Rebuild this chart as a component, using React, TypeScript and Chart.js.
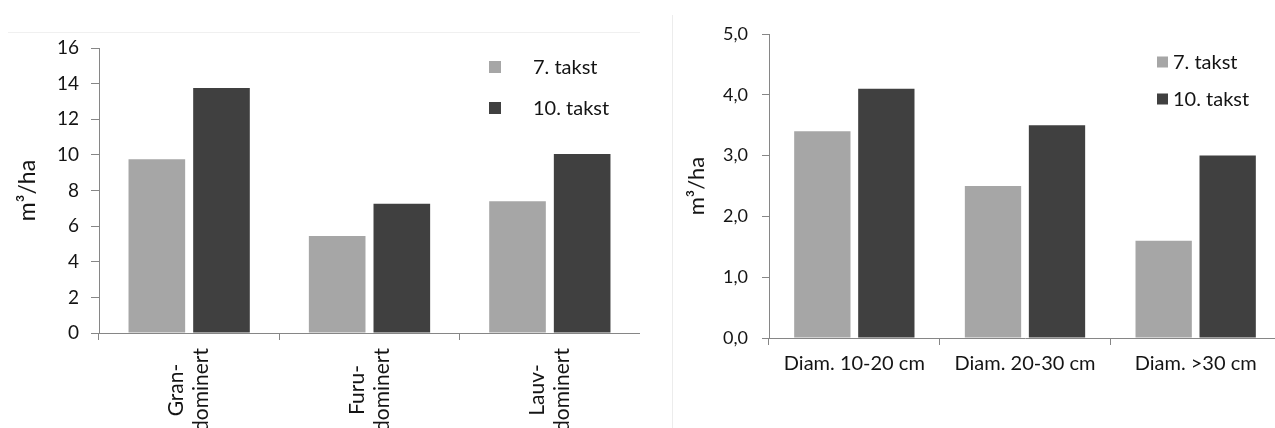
import React, { useEffect, useRef } from "react";
import { Chart, registerables } from "chart.js";

Chart.register(...registerables);

// Series shared by both panels
const seriesNames = ["7. takst", "10. takst"];
const seriesColors = ["#A6A6A6", "#404040"];

// Left panel: volume by dominant tree species
const standCategories = [
  ["Gran-", "dominert"],
  ["Furu-", "dominert"],
  ["Lauv-", "dominert"],
];
const standTakst7 = [9.75, 5.45, 7.4];
const standTakst10 = [13.75, 7.25, 10.05];
const standTickLabels = ["0", "2", "4", "6", "8", "10", "12", "14", "16"];

// Right panel: volume by diameter class
const diamCategories = ["Diam. 10-20 cm", "Diam. 20-30 cm", "Diam. >30 cm"];
const diamTakst7 = [3.4, 2.5, 1.6];
const diamTakst10 = [4.1, 3.5, 3.0];
const diamTickLabels = ["0,0", "1,0", "2,0", "3,0", "4,0", "5,0"];

const yTitle = "m³/ha";
const FONT = "Lato, 'Open Sans', sans-serif";
const AXIS = "#868686";
const TEXT = "#141414";

type PanelCfg = {
  width: number;
  height: number;
  categories: (string | string[])[];
  s7: number[];
  s10: number[];
  tickLabels: string[];
  yMax: number;
  yStep: number;
  yAxisWidth: number;
  top: number;
  zeroY: number;
  padRight: number;
  tickFont: number;
  yTickLen: number;
  yTickPad: number;
  titleFont: number;
  titlePad: number;
  xFont: number;
  rotated: boolean;
  xLabelCenter: number;
  xLineGap: number;
  xLabelPad: number;
  legendX: number;
  legendY: number;
  legendGap: number;
  legendStep: number;
  legendFont: number;
  swatchW: number;
  swatchH: number;
  catPct: number;
  barPct: number;
};

function buildConfig(p: PanelCfg): any {
  const legendPlugin = {
    id: "sideLegend",
    afterDraw(chart: any) {
      const ctx = chart.ctx;
      ctx.save();
      ctx.font = `${p.legendFont}px ${FONT}`;
      ctx.textBaseline = "middle";
      ctx.textAlign = "left";
      chart.data.datasets.forEach((ds: any, i: number) => {
        const y = p.legendY + i * p.legendStep;
        ctx.fillStyle = ds.backgroundColor;
        ctx.fillRect(p.legendX, y - p.swatchH / 2, p.swatchW, p.swatchH);
        ctx.fillStyle = TEXT;
        ctx.fillText(ds.label, p.legendX + p.swatchW + p.legendGap, y + 1);
      });
      ctx.restore();
    },
  };

  const rotatedLabelPlugin = {
    id: "rotatedLabels",
    afterDraw(chart: any) {
      if (!p.rotated) return;
      const ctx = chart.ctx;
      const xs = chart.scales.x;
      ctx.save();
      ctx.font = `${p.xFont}px ${FONT}`;
      ctx.fillStyle = TEXT;
      ctx.textAlign = "center";
      ctx.textBaseline = "middle";
      p.categories.forEach((cat, i) => {
        const lines = Array.isArray(cat) ? cat : [cat];
        const x = xs.getPixelForTick(i);
        ctx.save();
        ctx.translate(x, p.xLabelCenter);
        ctx.rotate(-Math.PI / 2);
        lines.forEach((line, j) => {
          ctx.fillText(line, 0, (j - (lines.length - 1) / 2) * p.xLineGap);
        });
        ctx.restore();
      });
      ctx.restore();
    },
  };

  return {
    type: "bar",
    data: {
      labels: p.categories,
      datasets: [
        {
          label: seriesNames[0],
          data: p.s7,
          backgroundColor: seriesColors[0],
          categoryPercentage: p.catPct,
          barPercentage: p.barPct,
        },
        {
          label: seriesNames[1],
          data: p.s10,
          backgroundColor: seriesColors[1],
          categoryPercentage: p.catPct,
          barPercentage: p.barPct,
        },
      ],
    },
    options: {
      animation: false,
      responsive: false,
      maintainAspectRatio: false,
      layout: { padding: { left: 0, top: p.top, right: p.padRight, bottom: 0 } },
      plugins: {
        legend: { display: false },
        tooltip: { enabled: false },
        title: { display: false },
      },
      scales: {
        x: {
          type: "category",
          offset: true,
          grid: {
            display: true,
            offset: true,
            drawOnChartArea: false,
            drawTicks: true,
            tickLength: 7,
            color: AXIS,
          },
          border: { display: true, color: AXIS, width: 1 },
          ticks: {
            display: !p.rotated,
            maxRotation: 0,
            minRotation: 0,
            padding: p.xLabelPad,
            color: TEXT,
            font: { family: FONT, size: p.xFont },
          },
          afterFit(scale: any) {
            scale.height = p.height - p.zeroY;
          },
        },
        y: {
          min: 0,
          max: p.yMax,
          grid: {
            display: true,
            drawOnChartArea: false,
            drawTicks: true,
            tickLength: p.yTickLen,
            color: AXIS,
          },
          border: { display: true, color: AXIS, width: 1 },
          ticks: {
            stepSize: p.yStep,
            padding: p.yTickPad,
            color: TEXT,
            font: { family: FONT, size: p.tickFont },
            callback: (_v: any, i: number) => p.tickLabels[i],
          },
          title: {
            display: true,
            text: yTitle,
            color: TEXT,
            font: { family: FONT, size: p.titleFont },
            padding: { top: p.titlePad, bottom: 0 },
          },
          afterFit(scale: any) {
            scale.width = p.yAxisWidth;
          },
        },
      },
    },
    plugins: [legendPlugin, rotatedLabelPlugin],
  };
}

function Panel({ cfg, left }: { cfg: PanelCfg; left: number }) {
  const ref = useRef<HTMLCanvasElement | null>(null);
  useEffect(() => {
    if (!ref.current) return;
    const chart = new Chart(ref.current, buildConfig(cfg));
    return () => chart.destroy();
  }, []);
  return (
    <canvas
      ref={ref}
      width={cfg.width}
      height={cfg.height}
      style={{ position: "absolute", left, top: 0, width: cfg.width, height: cfg.height }}
    />
  );
}

const standPanel: PanelCfg = {
  width: 640,
  height: 428,
  categories: standCategories,
  s7: standTakst7,
  s10: standTakst10,
  tickLabels: standTickLabels,
  yMax: 16,
  yStep: 2,
  yAxisWidth: 99,
  top: 48,
  zeroY: 333,
  padRight: 0,
  tickFont: 19,
  yTickLen: 8,
  yTickPad: 12,
  titleFont: 23,
  titlePad: 14,
  xFont: 21,
  rotated: true,
  xLabelCenter: 390,
  xLineGap: 25,
  xLabelPad: 0,
  legendX: 489,
  legendY: 67,
  legendGap: 32,
  legendStep: 41,
  legendFont: 20,
  swatchW: 12,
  swatchH: 12,
  catPct: 0.717,
  barPct: 0.876,
};

const diamPanel: PanelCfg = {
  width: 645,
  height: 428,
  categories: diamCategories,
  s7: diamTakst7,
  s10: diamTakst10,
  tickLabels: diamTickLabels,
  yMax: 5,
  yStep: 1,
  yAxisWidth: 129,
  top: 34,
  zeroY: 338,
  padRight: 4,
  tickFont: 18,
  yTickLen: 7,
  yTickPad: 14,
  titleFont: 22,
  titlePad: 44,
  xFont: 20,
  rotated: false,
  xLabelCenter: 0,
  xLineGap: 0,
  xLabelPad: 7,
  legendX: 517,
  legendY: 62,
  legendGap: 5,
  legendStep: 37,
  legendFont: 20,
  swatchW: 11,
  swatchH: 11,
  catPct: 0.75,
  barPct: 0.88,
};

export default function App() {
  return (
    <div
      style={{
        position: "absolute",
        left: 0,
        top: 0,
        width: 1275,
        height: 428,
        overflow: "hidden",
        background: "#ffffff",
      }}
    >
      {/* chart frame edges */}
      <div
        style={{
          position: "absolute",
          left: 8,
          top: 32,
          width: 632,
          height: 0,
          borderTop: "1px solid #f0f0f0",
        }}
      />
      <div
        style={{
          position: "absolute",
          left: 672,
          top: 15,
          width: 0,
          height: 413,
          borderLeft: "1px solid #ececec",
        }}
      />
      <Panel cfg={standPanel} left={0} />
      <Panel cfg={diamPanel} left={640} />
    </div>
  );
}
